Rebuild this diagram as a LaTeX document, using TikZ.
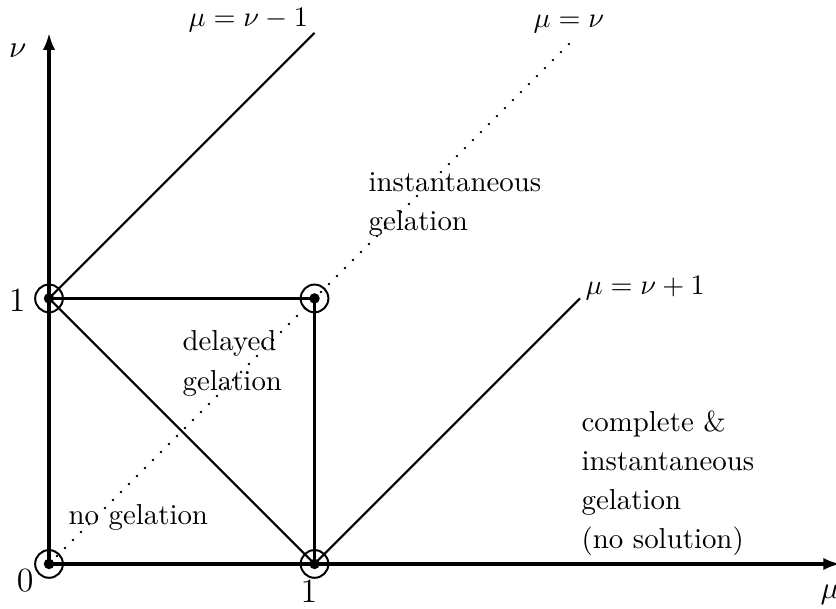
\documentclass[tikz,border=0pt]{standalone}
\usetikzlibrary{arrows.meta}
\begin{document}
\begin{tikzpicture}[x=3.3cm,y=3.3cm,
  axis/.style={line width=1.4pt,-{Latex[length=6pt,width=4.4pt]}},
  thickline/.style={line width=1.15pt},
  thinline/.style={line width=0.75pt},
  dotline/.style={line width=0.95pt,line cap=round,dash pattern=on 0pt off 4pt},
  lbl/.style={inner sep=0pt,anchor=base west,align=left,font=\fontsize{10.2}{13.9}\selectfont},
  ticklbl/.style={inner sep=0pt,anchor=base,font=\fontsize{11.5}{13}\selectfont},
  axlbl/.style={inner sep=0pt,anchor=base west,font=\fontsize{11}{13}\selectfont},
  ring/.style={circle,draw,line width=0.7pt,minimum size=9.8pt,inner sep=0pt},
  dot/.style={circle,fill,minimum size=3.7pt,inner sep=0pt}]
\useasboundingbox (-0.1846,-0.1695) rectangle (2.964,2.124);
\coordinate (O) at (0,0);
\coordinate (A) at (0,1);
\coordinate (B) at (1,1);
\coordinate (C) at (1,0);
\coordinate (Xend) at (2.98,0);
\coordinate (Yend) at (0,2.0);
\coordinate (L1) at (1,2);
\coordinate (L2) at (1.98,1.98);
\coordinate (L3) at (2,1);
% axes
\draw[axis] (O) -- (Xend);
\draw[axis] (O) -- (Yend);
% square
\draw[thickline] (A) -- (B) -- (C);
\draw[thinline] (A) -- (C);
\draw[thinline] (A) -- (L1);
\draw[thinline] (C) -- (L3);
\draw[dotline] (O) -- (L2);
% marks
\foreach \p in {O,A,B,C}{
  \node[ring] (r\p) at (\p) {};
  \node[dot] (d\p) at (\p) {};
}
% axis labels
\node[axlbl] (mu) at (2.904,-0.132) {$\mu$};
\node[axlbl] (nu) at (-0.152,1.906) {$\nu$};
\node[ticklbl] (t0) at (-0.09,-0.105) {$0$};
\node[ticklbl] (t1y) at (-0.12,0.949) {$1$};
\node[ticklbl] (t1x) at (0.979,-0.147) {$1$};
% line labels
\node[lbl] (e1) at (0.524,2.023) {$\mu=\nu-1$};
\node[lbl] (e2) at (1.823,2.019) {$\mu=\nu$};
\node[lbl] (e3) at (2.019,1.013) {$\mu=\nu+1$};
% region labels (base = last line)
\node[lbl] (r1) at (1.2015,1.254) {instantaneous\\gelation};
\node[lbl] (r2) at (0.501,0.655) {delayed\\gelation};
\node[lbl] (r3) at (0.0716,0.147) {no gelation};
\node[lbl] (r4) at (2.004,0.0565) {complete \&\\instantaneous\\gelation\\(no solution)};
\end{tikzpicture}
\end{document}
